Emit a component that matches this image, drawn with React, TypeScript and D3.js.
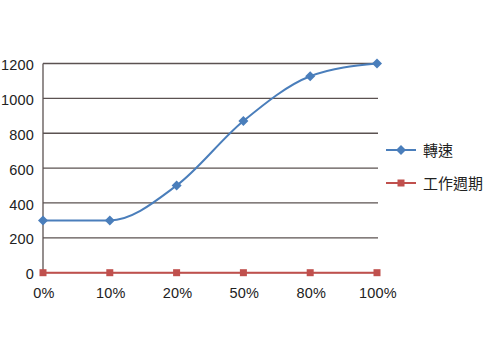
import React from "react";
import * as d3 from "d3";

const categories = ["0%", "10%", "20%", "50%", "80%", "100%"];
const speedValues = [300, 300, 500, 870, 1127, 1200];
const dutyValues = [0, 0, 0, 0, 0, 0];
const yTicks = [0, 200, 400, 600, 800, 1000, 1200];
const seriesNames = ["轉速", "工作週期"];

const W = 499, H = 355;
const left = 43, right = 377, top = 63.5, bottom = 272.7;
const FONT = "'Liberation Sans', Arial, sans-serif";

export default function App() {
  const x = d3.scalePoint<string>().domain(categories).range([left, right]);
  const y = d3.scaleLinear().domain([0, 1200]).range([bottom, top]);
  const speedLine = d3
    .line<number>()
    .x((_, i) => x(categories[i])!)
    .y((d) => y(d))
    .curve(d3.curveMonotoneX);
  const dutyLine = d3
    .line<number>()
    .x((_, i) => x(categories[i])!)
    .y((d) => y(d));
  const blue = "#4a7ebb";
  const red = "#c0504d";
  const diamond = (cx: number, cy: number, r = 5) =>
    `M${cx},${cy - r}L${cx + r},${cy}L${cx},${cy + r}L${cx - r},${cy}Z`;

  return (
    <svg width={W} height={H} style={{ position: "absolute", left: 0, top: 0, background: "#fff" }}>
      {yTicks.map((t) => (
        <g key={t}>
          <line x1={left} x2={right + 1} y1={y(t)} y2={y(t)} stroke="#5b5251" strokeWidth={1.3} />
          <text x={34} y={y(t) + 1.5} dy="0.35em" textAnchor="end" fontFamily={FONT} fontSize={14.5} letterSpacing={0.2} fill="#222">
            {t}
          </text>
        </g>
      ))}
      <line x1={left} x2={left} y1={top} y2={bottom} stroke="#5b5251" strokeWidth={1.3} />
      {categories.map((c) => (
        <text key={c} x={x(c)! + 1} y={298} textAnchor="middle" fontFamily={FONT} fontSize={14.5} letterSpacing={0.2} fill="#222">
          {c}
        </text>
      ))}
      <path d={speedLine(speedValues)!} fill="none" stroke={blue} strokeWidth={2} />
      {speedValues.map((v, i) => (
        <path key={i} d={diamond(x(categories[i])!, y(v))} fill={blue} />
      ))}
      <path d={dutyLine(dutyValues)!} fill="none" stroke={red} strokeWidth={2} />
      {dutyValues.map((v, i) => (
        <rect key={i} x={x(categories[i])! - 3.5} y={y(v) - 3.5} width={7} height={7} fill={red} />
      ))}
      {/* legend */}
      <g>
        <line x1={386} x2={416} y1={150} y2={150} stroke={blue} strokeWidth={2} />
        <path d={diamond(401, 150)} fill={blue} />
        <text x={423} y={151} dy="0.35em" fontFamily="'Noto Sans CJK TC', sans-serif" fontSize={15} fill="#222">
          {seriesNames[0]}
        </text>
        <line x1={386} x2={416} y1={183} y2={183} stroke={red} strokeWidth={2} />
        <rect x={397.5} y={179.5} width={7} height={7} fill={red} />
        <text x={423} y={184} dy="0.35em" fontFamily="'Noto Sans CJK TC', sans-serif" fontSize={15} fill="#222">
          {seriesNames[1]}
        </text>
      </g>
    </svg>
  );
}
